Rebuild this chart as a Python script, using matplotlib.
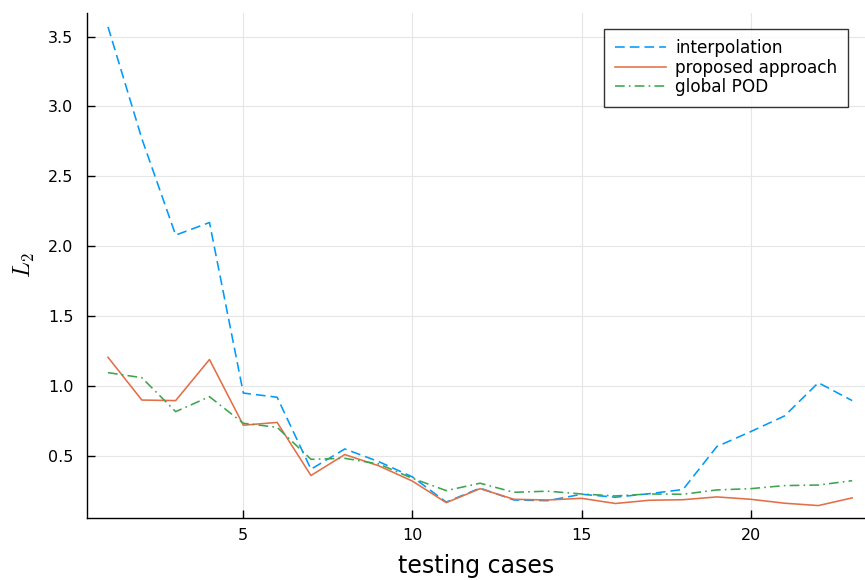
import matplotlib
matplotlib.use("Agg")
import matplotlib.pyplot as plt

cases = list(range(1, 24))
interpolation = [3.57, 2.77, 2.08, 2.17, 0.95, 0.92, 0.405, 0.55, 0.46, 0.35, 0.17, 0.27,
                 0.185, 0.18, 0.226, 0.205, 0.23, 0.26, 0.567, 0.674, 0.786, 1.024, 0.896]
proposed = [1.206, 0.90, 0.896, 1.19, 0.72, 0.74, 0.36, 0.51, 0.43, 0.32, 0.166, 0.266,
            0.19, 0.185, 0.197, 0.16, 0.183, 0.187, 0.207, 0.19, 0.162, 0.145, 0.2]
global_pod = [1.096, 1.06, 0.817, 0.924, 0.734, 0.705, 0.476, 0.483, 0.443, 0.34, 0.252, 0.305,
              0.24, 0.248, 0.228, 0.214, 0.228, 0.226, 0.257, 0.266, 0.288, 0.292, 0.323]
xticks = [5, 10, 15, 20]
yticks = [0.5, 1.0, 1.5, 2.0, 2.5, 3.0, 3.5]

plt.rcParams['mathtext.fontset'] = 'cm'
plt.rcParams['lines.scale_dashes'] = False

fig = plt.figure(figsize=(8.65, 5.8), dpi=100)
ax = fig.add_axes([86.7 / 865, 1 - 518.3 / 580, (865 - 86.7) / 865, (518.3 - 12.7) / 580])

ax.plot(cases, interpolation, color='#009AFA', lw=1.15, dashes=(7.0, 3.6), label='interpolation')
ax.plot(cases, proposed, color='#E36F47', lw=1.15, label='proposed approach')
ax.plot(cases, global_pod, color='#3EA44E', lw=1.15, dashes=(7.0, 3.0, 1.2, 3.0), label='global POD')

ax.set_xlim(0.37, 23.38)
ax.set_ylim(0.054, 3.671)
ax.set_xticks(xticks)
ax.set_yticks(yticks)
ax.set_xticklabels([str(t) for t in xticks])
ax.set_yticklabels([f"{t:.1f}" for t in yticks])

ax.grid(True, color='#E6E6E6', lw=0.8)
ax.set_axisbelow(True)
for s in ['top', 'right']:
    ax.spines[s].set_visible(False)
for s in ['left', 'bottom']:
    ax.spines[s].set_linewidth(1.0)
    ax.spines[s].set_color('black')
ax.tick_params(axis='both', direction='in', length=5.5, width=1.0, labelsize=11.5)
ax.tick_params(axis='x', pad=7)
ax.tick_params(axis='y', pad=9.5)

ax.set_xlabel('testing cases', fontsize=17, labelpad=8)
ax.set_ylabel(r'$L_2$', fontsize=17)
ax.yaxis.set_label_coords(-0.064, 0.5)

leg = ax.legend(loc='upper right', bbox_to_anchor=(1 - 17 / 778.3, 1 - 16 / 505.6),
                fontsize=12.2, frameon=True, fancybox=False, edgecolor='black',
                handlelength=3.0, handletextpad=0.57, labelspacing=0.08,
                borderpad=0.63, borderaxespad=0.0)
leg.get_frame().set_linewidth(1.0)

fig.savefig('out.png', dpi=100)
